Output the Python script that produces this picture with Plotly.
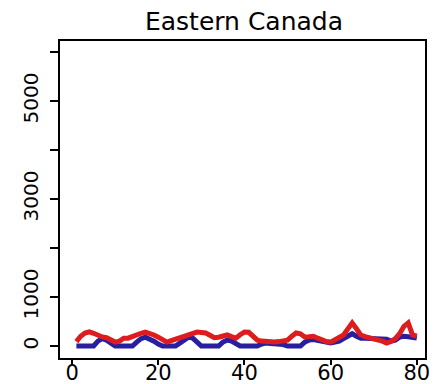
import plotly.graph_objects as go

months = list(range(1, 81))

red_values = [90, 200, 265, 290, 260, 220, 185, 170, 120, 80,
              100, 160, 160, 200, 225, 260, 285, 260, 225, 180,
              120, 80, 110, 140, 160, 200, 240, 270, 285, 275,
              265, 220, 170, 180, 210, 225, 190, 160, 230, 285,
              280, 200, 120, 100, 90, 85, 80, 90, 100, 120,
              200, 265, 250, 185, 190, 200, 160, 120, 90, 80,
              120, 180, 225, 350, 470, 350, 225, 190, 170, 160,
              140, 100, 60, 90, 150, 250, 400, 470, 225, 200]

blue_values = [0, 0, 0, 0, 0, 100, 150, 120, 60, 0,
               0, 0, 0, 0, 80, 150, 180, 150, 100, 40,
               0, 0, 0, 0, 60, 120, 180, 160, 80, 0,
               0, 0, 0, 0, 80, 120, 100, 40, 0, 0,
               0, 0, 0, 40, 60, 50, 50, 40, 30, 0,
               0, 0, 0, 80, 120, 130, 110, 90, 70, 60,
               80, 100, 150, 200, 250, 200, 160, 160, 160, 160,
               160, 160, 140, 100, 120, 180, 200, 190, 180, 160]

y_tick_vals = [0, 1000, 2000, 3000, 4000, 5000, 6000]
y_tick_text = ["0", "1000", "", "3000", "", "5000", ""]
x_tick_vals = [0, 20, 40, 60, 80]

fig = go.Figure()
fig.add_trace(go.Scatter(x=months, y=blue_values, mode="lines",
                         line=dict(color="rgb(40,30,160)", width=5),
                         showlegend=False))
fig.add_trace(go.Scatter(x=months, y=red_values, mode="lines",
                         line=dict(color="rgb(222,28,30)", width=5),
                         showlegend=False))

# page body has an 8px default margin, so the figure is 8px smaller
fig.update_layout(
    width=434, height=376,
    template="none",
    paper_bgcolor="white", plot_bgcolor="white",
    margin=dict(l=52, r=17, t=33, b=26),
    title=dict(text="Eastern Canada", x=236 / 434, xanchor="center",
               y=1 - 13 / 376, yanchor="middle",
               font=dict(family="DejaVu Sans", size=25, color="black")),
    font=dict(family="DejaVu Sans", color="black"),
)
fig.update_xaxes(range=[-2.8, 81.9], tickvals=x_tick_vals,
                 ticks="outside", ticklen=5, tickwidth=2, tickcolor="black",
                 ticklabelstandoff=-10,
                 showline=True, linecolor="black", linewidth=2, mirror=True,
                 showgrid=False, zeroline=False, automargin=False,
                 tickfont=dict(family="DejaVu Sans", size=21, color="black"))
fig.update_yaxes(range=[-245, 6225], tickvals=y_tick_vals, ticktext=y_tick_text,
                 tickangle=-90,
                 ticks="outside", ticklen=8, tickwidth=2, tickcolor="black",
                 ticklabelstandoff=4,
                 showline=True, linecolor="black", linewidth=2, mirror=True,
                 showgrid=False, zeroline=False, automargin=False,
                 tickfont=dict(family="DejaVu Sans", size=20, color="black"))

fig.write_html("out.html")
